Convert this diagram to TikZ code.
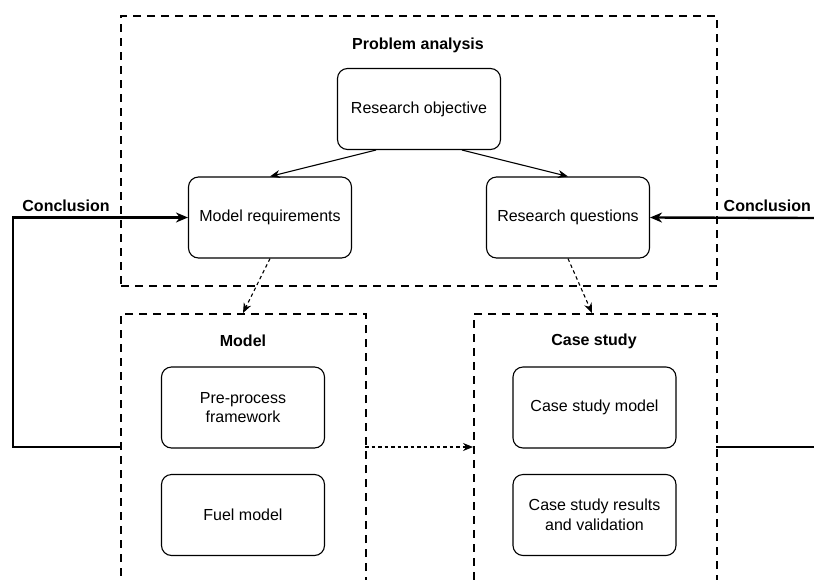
\documentclass[tikz,border=0pt]{standalone}
\usepackage{fontspec}
\setmainfont{Liberation Sans}
\usetikzlibrary{arrows.meta}
\begin{document}
\begin{tikzpicture}[x=1pt,y=-1pt,
  stepbox/.style={draw, rounded corners=10pt, line width=1.1pt,
    minimum width=163pt, minimum height=81pt, align=center,
    inner sep=0pt, font=\fontsize{16}{19.5}\selectfont},
  groupbox/.style={draw, line width=2pt, dash pattern=on 8pt off 6pt,
    inner sep=0pt, anchor=north west},
  grouptitle/.style={font=\bfseries\fontsize{16}{19.5}\selectfont},
  flow/.style={-{Stealth[length=10pt,width=8pt]}, line width=1.1pt},
  hint/.style={-{Stealth[length=10pt,width=8pt]}, line width=1.1pt,
    dash pattern=on 3.5pt off 3pt},
  feedback/.style={line width=2.4pt},
]
\clip (0,0) rectangle (814,579);
\fill[white] (0,0) rectangle (814,579);

% dashed group frames
\node[groupbox, minimum width=596pt, minimum height=270pt] (pa) at (120,15) {};
\node[groupbox, minimum width=245pt, minimum height=320pt] (mo) at (120,313) {};
\node[groupbox, minimum width=243pt, minimum height=320pt] (cs) at (473,313) {};

% frame titles
\node[grouptitle] (patitle) at (418,45) {Problem analysis};
\node[grouptitle] (motitle) at (243,341) {Model};
\node[grouptitle] (cstitle) at (594,341) {Case study};

% steps
\node[stepbox] (obj) at (419,109) {Research objective};
\node[stepbox] (req) at (270,217.5) {Model requirements};
\node[stepbox] (rq) at (568,217.5) {Research questions};
\node[stepbox] (pre) at (243,407.5) {Pre-process\\framework};
\node[stepbox] (fuel) at (243,515) {Fuel model};
\node[stepbox] (csm) at (594.5,407.5) {Case study model};
\node[stepbox] (csr) at (594.5,515) {Case study results\\and validation};

% refinement of the objective
\draw[flow] ([xshift=-43pt]obj.south) -- (req.north);
\draw[flow] ([xshift=43pt]obj.south) -- (rq.north);

% hand-over to the lower frames
\coordinate (moin) at (243,313);
\coordinate (csin) at (592,313);
\draw[hint] (req.south) -- (moin);
\draw[hint] (rq.south) -- (csin);
\coordinate (moout) at (365,447);
\coordinate (csout) at (473,447);
\draw[hint] (moout) -- (csout);

% conclusion feedback loops
\coordinate (lstart) at (120,447);
\coordinate (lcorner) at (13,447);
\draw[feedback, -{Stealth[length=12pt,width=10pt]}] (lstart) -- (lcorner) |- (req.west);
\coordinate (rin) at (816,218);
\draw[feedback, -{Stealth[length=12pt,width=10pt]}] (rin) -- (rq.east);
\coordinate (rstart) at (716,447);
\coordinate (rout) at (816,447);
\draw[feedback] (rstart) -- (rout);

\node[grouptitle, anchor=base] (cl) at (66,211) {Conclusion};
\node[grouptitle, anchor=base east, inner xsep=0pt] (cr) at (811,211) {Conclusion};
\end{tikzpicture}
\end{document}
